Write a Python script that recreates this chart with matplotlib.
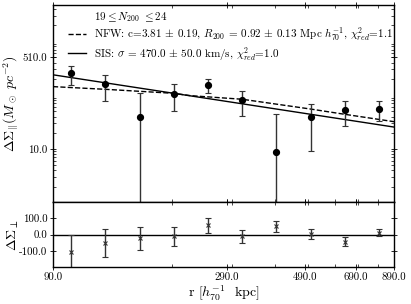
import matplotlib
matplotlib.use("Agg")
import matplotlib.pyplot as plt
from matplotlib.ticker import FixedLocator, FixedFormatter, LogLocator, NullFormatter

plt.rcParams['font.family'] = ['cmr10', 'DejaVu Serif']
plt.rcParams['mathtext.fontset'] = 'cm'
plt.rcParams['axes.unicode_minus'] = False

# data
r = [101.6, 128.0, 161.0, 202.5, 255.0, 321.0, 404.0, 508.0, 640.0, 805.0]
sig_par = [254, 159, 39.8, 105, 154, 81, 8.9, 39, 53, 55]
err_par = [100, 82, 68, 55, 45, 40, 35, 30, 26, 22]
sig_perp = [-104, -51, -23, -11, 55, -12, 50, 4, -45, 11]
err_perp = [100, 85, 70, 58, 47, 41, 35, 30, 28, 23]

sis_r = [90, 890]
sis_val = [238, 25.5]
nfw_r = [90, 128, 202, 227, 321, 507, 639, 890]
nfw_val = [143.6, 128, 108, 97.5, 83.7, 55.2, 44, 32.1]

xticks = [90, 290, 490, 690, 890]
xticklabels = ["90.0", "290.0", "490.0", "690.0", "890.0"]
yticks_top = [10, 510]
yticklabels_top = ["10.0", "510.0"]
yticks_bot = [-100, 0, 100]
yticklabels_bot = ["-100.0", "0.0", "100.0"]

label_bin = r"$19\leq N_{200}\ \leq 24$"
label_nfw = r"NFW: c=3.81 $\pm$ 0.19, $R_{200}$ = 0.92 $\pm$ 0.13 Mpc $h_{70}^{-1}$, $\chi^2_{red}$=1.1"
label_sis = r"SIS: $\sigma$ = 470.0 $\pm$ 50.0 km/s, $\chi^2_{red}$=1.0"

fig = plt.figure(figsize=(4.11, 3.04), dpi=100)
left, width = 53/411, 341/411
ax1 = fig.add_axes([left, 1 - 201.7/304, width, 196.7/304])
ax2 = fig.add_axes([left, 1 - 267.3/304, width, 65.6/304], sharex=ax1)

ax1.set_xscale('log')
ax1.set_yscale('log')

ax1.plot([], [], ' ', label=label_bin)
ax1.plot(nfw_r, nfw_val, 'k--', lw=1, label=label_nfw)
ax1.plot(sis_r, sis_val, 'k-', lw=1, label=label_sis)
ax1.errorbar(r, sig_par, yerr=err_par, fmt='o', color='k', ms=4.2,
             ecolor='0.2', elinewidth=1, capsize=2, capthick=0.8)

ax1.set_xlim(90, 890)
ax1.set_ylim(1.05, 4700)
ax1.yaxis.set_major_locator(FixedLocator(yticks_top))
ax1.yaxis.set_major_formatter(FixedFormatter(yticklabels_top))
ax1.yaxis.set_minor_locator(LogLocator(base=10, subs=range(2, 10)))
ax1.yaxis.set_minor_formatter(NullFormatter())
ax1.set_ylabel(r"$\Delta\Sigma_{||}(M_\odot\ pc^{-2})$", fontsize=10)
ax1.yaxis.set_label_coords(-0.093, 0.5)

leg = ax1.legend(loc='upper left', bbox_to_anchor=(0.025, 1.005), frameon=False,
                 fontsize=8, handlelength=1.6, handletextpad=0.7,
                 labelspacing=0.15, borderaxespad=0.2)

ax2.axhline(0, color='k', lw=1)
ax2.errorbar(r, sig_perp, yerr=err_perp, fmt='x', color='0.2', ms=3.5, mew=0.8,
             ecolor='0.2', elinewidth=1, capsize=2, capthick=0.8)
ax2.set_ylim(-200, 200)
ax2.yaxis.set_major_locator(FixedLocator(yticks_bot))
ax2.yaxis.set_major_formatter(FixedFormatter(yticklabels_bot))
ax2.set_ylabel(r"$\Delta\Sigma_\perp$", fontsize=10)
ax2.yaxis.set_label_coords(-0.093, 0.5)

ax2.xaxis.set_major_locator(FixedLocator(xticks))
ax2.xaxis.set_major_formatter(FixedFormatter(xticklabels))
ax2.xaxis.set_minor_locator(LogLocator(base=10, subs=range(2, 10)))
ax2.xaxis.set_minor_formatter(NullFormatter())
ax2.set_xlabel(r"r [$h_{70}^{-1}$  kpc]", fontsize=10)
ax2.xaxis.set_label_coords(0.5, -0.25)
plt.setp(ax1.get_xticklabels(), visible=False)

for ax in (ax1, ax2):
    ax.tick_params(which='major', direction='inout', length=5, width=0.6,
                   top=True, right=True, labelsize=7.8, pad=1.5)
    ax.tick_params(which='minor', direction='in', length=2.5, width=0.5,
                   top=True, right=True)
    for s in ax.spines.values():
        s.set_linewidth(1.0)

fig.savefig("out.png", dpi=100)
